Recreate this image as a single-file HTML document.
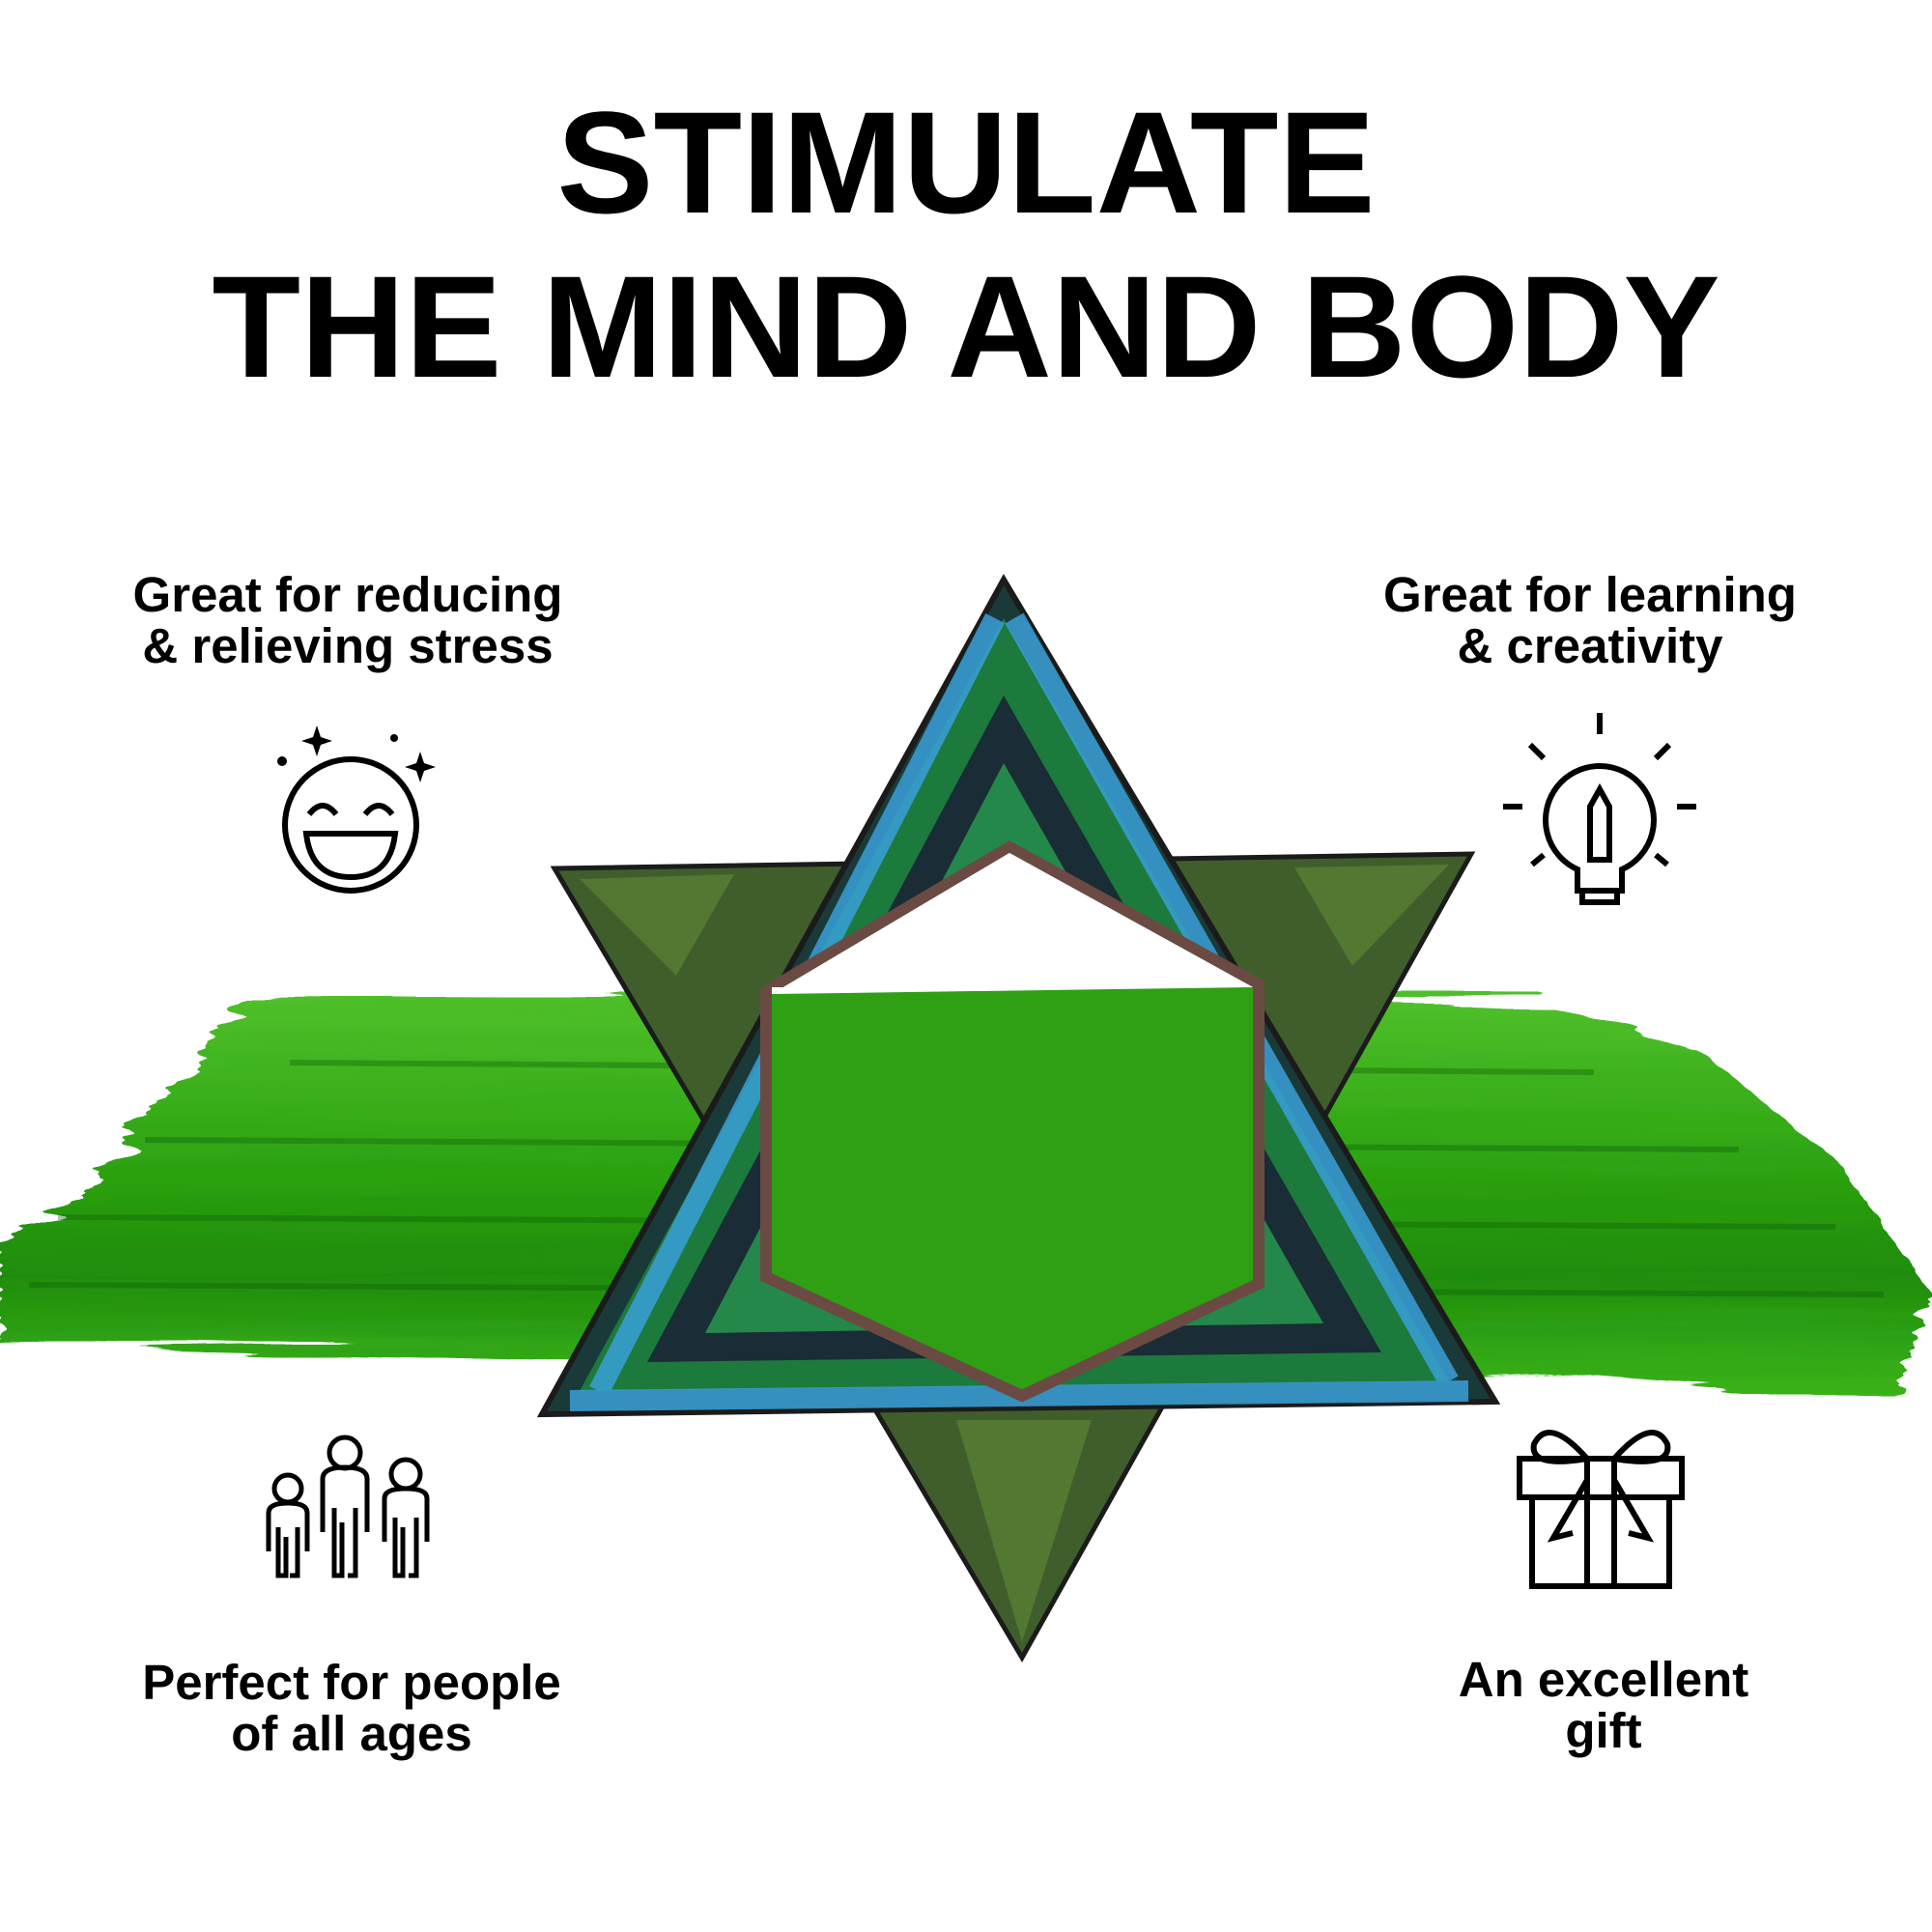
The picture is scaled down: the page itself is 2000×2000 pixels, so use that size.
<!DOCTYPE html>
<html><head><meta charset="utf-8">
<style>
html,body{margin:0;padding:0;background:#fff;}
.wrap{position:relative;width:2000px;height:2000px;overflow:hidden;background:#fff;font-family:"Liberation Sans",Arial,sans-serif;}
.t{position:absolute;left:0;width:2000px;text-align:center;font-weight:bold;color:#000;line-height:1;}
.cap{position:absolute;font-weight:bold;font-size:51px;line-height:53px;text-align:center;color:#000;}
svg{position:absolute;left:0;top:0;}
</style></head><body><div class="wrap">
<div class="t" style="top:93px;font-size:150px;">STIMULATE</div>
<div class="t" style="top:263px;font-size:150px;">THE MIND AND BODY</div>

<svg width="2000" height="2000" viewBox="0 0 2000 2000">
<defs>
<filter id="rough"><feTurbulence type="fractalNoise" baseFrequency="0.002 0.06" numOctaves="3" seed="4"/><feDisplacementMap in="SourceGraphic" scale="40"/></filter>
<linearGradient id="g1" x1="0" y1="0" x2="0" y2="1">
<stop offset="0" stop-color="#4fc02a"/><stop offset="0.4" stop-color="#2ea512"/><stop offset="0.7" stop-color="#1f8c0c"/><stop offset="1" stop-color="#3bb51a"/></linearGradient>
</defs>
<path filter="url(#rough)" fill="url(#g1)" d="M250 1030 L1600 1035 L1750 1080 L1900 1200 L2000 1340 L1960 1445 L1650 1420 L1200 1440 L600 1410 L0 1395 L0 1290 L80 1240 L200 1100 Z"/>
<g opacity="0.35" stroke="#0d5a06" stroke-width="6">
<line x1="150" y1="1180" x2="1800" y2="1190"/><line x1="60" y1="1260" x2="1900" y2="1270"/><line x1="30" y1="1330" x2="1950" y2="1340"/><line x1="300" y1="1100" x2="1650" y2="1110"/>
</g>
<polygon points="574,899 1523,884 1058,1716" fill="#3f5e2c" stroke="#1b1b1b" stroke-width="5"/>
<polygon points="600,910 760,905 700,1010" fill="#5f8a35" opacity="0.6"/>
<polygon points="1500,895 1340,898 1400,1000" fill="#5f8a35" opacity="0.6"/>
<polygon points="1058,1700 990,1470 1130,1470" fill="#5f8a35" opacity="0.6"/>
<polygon points="1039,600 561,1464 1548,1451" fill="#1a3a3a" stroke="#1b1b1b" stroke-width="6"/>
<polygon points="1039,640 1500,1430 600,1440" fill="#1c7a3c"/>
<polygon points="1039,720 1430,1400 670,1410" fill="#1a2c35"/>
<polygon points="1039,790 1370,1370 730,1380" fill="#24884a"/>
<g fill="none" stroke="#3aa0d8" stroke-width="22" opacity="0.85">
<polyline points="1030,640 620,1440"/><polyline points="1050,640 1500,1430"/><polyline points="590,1450 1520,1440"/>
</g>
<polygon points="1045,877 1303,1019 1303,1329 1058,1445 793,1322 793,1026" fill="#2fa014" stroke="#6b4a44" stroke-width="12"/>
<polygon points="1045,883 1297,1022 799,1022 799,1029" fill="#fff"/>
<polygon points="1045,883 1297,1022 799,1029" fill="#fff"/>
<g transform="translate(-5,-12)">
<g fill="none" stroke="#000" stroke-width="6">
<circle cx="368" cy="866" r="68"/>
<path d="M325 855 q14 -18 28 0 M383 855 q14 -18 28 0"/>
<path d="M322 875 h92 q-5 45 -46 45 q-41 0 -46 -45 z"/>
</g>
<g fill="#000"><path d="M333 763 l4 12 12 4 -12 4 -4 12 -4 -12 -12 -4 12 -4z"/><path d="M440 790 l4 12 12 4 -12 4 -4 12 -4 -12 -12 -4 12 -4z"/><circle cx="297" cy="800" r="5"/><circle cx="413" cy="776" r="4"/></g>
</g>
<g transform="translate(-22,0)" fill="none" stroke="#000" stroke-width="6">
<path d="M1655 900 a56 56 0 1 1 46 0 v22 h-46 z"/><rect x="1660" y="922" width="36" height="12"/>
<path d="M1668 890 v-55 l10 -18 10 18 v55 z"/>
<path d="M1678 760 v-22 M1620 785 l-14 -14 M1736 785 l14 -14 M1598 835 h-20 M1758 835 h20 M1620 885 l-12 10 M1736 885 l12 10"/>
</g>
<g transform="translate(-8,-19)" fill="none" stroke="#000" stroke-width="5">
<circle cx="306" cy="1560" r="14"/><path d="M286 1625 v-40 q0 -10 20 -10 q20 0 20 10 v40 M296 1600 v50 h8 v-40 M316 1600 v50 h-8"/>
<circle cx="365" cy="1523" r="16"/><path d="M342 1605 v-55 q0 -12 23 -12 q23 0 23 12 v55 M354 1580 v70 h8 v-55 M376 1580 v70 h-8"/>
<circle cx="428" cy="1545" r="15"/><path d="M406 1615 v-45 q0 -10 22 -10 q22 0 22 10 v45 M417 1590 v60 h8 v-50 M439 1590 v60 h-8"/>
</g>
<g transform="translate(-22,-23)" fill="none" stroke="#000" stroke-width="6">
<rect x="1595" y="1533" width="168" height="40"/><rect x="1608" y="1573" width="142" height="92"/>
<path d="M1665 1533 v132 M1693 1533 v132"/>
<path d="M1665 1533 q-40 -45 -55 -15 q-5 25 55 15 M1693 1533 q40 -45 55 -15 q5 25 -55 15"/>
<path d="M1665 1555 l-35 60 20 -5 M1693 1555 l35 60 -20 -5"/>
</g>
</svg>

<div class="cap" style="left:110px;width:500px;top:589px;">Great for reducing<br>&amp; relieving stress</div>
<div class="cap" style="left:1396px;width:500px;top:589px;">Great for learning<br>&amp; creativity</div>
<div class="cap" style="left:114px;width:500px;top:1715px;">Perfect for people<br>of all ages</div>
<div class="cap" style="left:1410px;width:500px;top:1712px;">An excellent<br>gift</div>
</div></body></html>
